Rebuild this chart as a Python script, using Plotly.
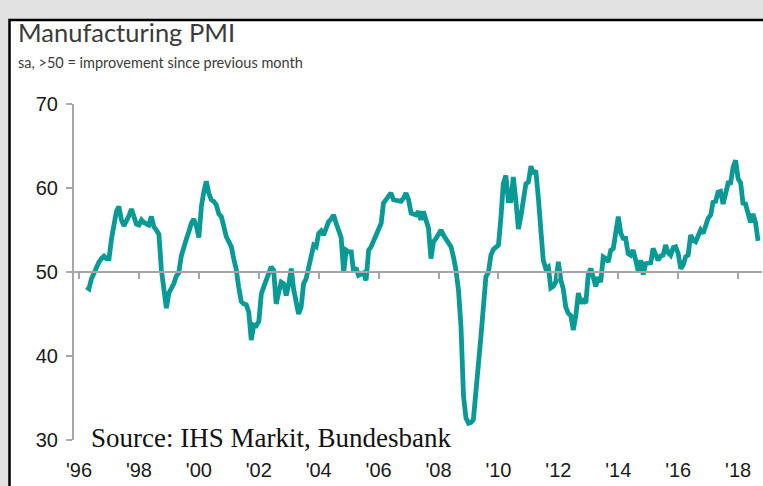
import pandas as pd
import plotly.graph_objects as go

# ---- data (German manufacturing PMI, monthly, Apr 1996 - Sep 2018) ----
start_month = "1996-04-01"
pmi_1996 = [48.2, 48.0, 49.2, 49.9, 50.6, 51.2, 51.6, 51.9, 51.6]
pmi_1997 = [51.6, 54.0, 56.0, 57.2, 57.8, 56.2, 55.5, 56.0, 56.7, 57.5, 56.6, 55.7]
pmi_1998 = [55.6, 56.2, 55.9, 55.7, 55.6, 56.6, 55.4, 55.0, 54.5, 50.3, 47.5, 45.7]
pmi_1999 = [47.5, 48.0, 48.6, 49.5, 49.9, 51.9, 53.2, 53.9, 54.8, 55.8, 56.3, 55.5]
pmi_2000 = [54.1, 57.8, 59.5, 60.8, 59.4, 58.6, 58.4, 58.0, 56.9, 56.6, 55.4, 54.2]
pmi_2001 = [53.6, 53.0, 51.6, 50.3, 48.2, 46.5, 46.2, 46.1, 45.2, 41.9, 43.7, 43.6]
pmi_2002 = [44.1, 47.4, 48.2, 49.0, 50.0, 50.6, 50.2, 46.2, 47.6, 48.8, 48.6, 47.2]
pmi_2003 = [48.5, 50.4, 48.0, 46.5, 45.0, 45.8, 48.6, 49.2, 50.4, 51.6, 53.2, 53.0]
pmi_2004 = [54.6, 54.9, 54.4, 55.2, 56.0, 56.3, 56.8, 55.8, 54.9, 54.1, 49.9, 52.6]
pmi_2005 = [52.4, 52.4, 50.1, 50.5, 49.6, 49.8, 49.9, 49.0, 52.6, 53.0, 53.8, 54.4]
pmi_2006 = [55.2, 55.8, 58.2, 58.6, 59.0, 59.4, 58.6, 58.5, 58.4, 58.4, 58.8, 59.4]
pmi_2007 = [58.6, 57.0, 56.9, 56.8, 57.2, 56.2, 57.2, 56.2, 55.2, 51.6, 53.6, 54.0]
pmi_2008 = [54.4, 55.0, 54.4, 54.0, 53.6, 53.0, 51.8, 50.2, 47.8, 43.5, 35.2, 32.6]
pmi_2009 = [32.0, 32.1, 32.4, 35.4, 39.6, 42.3, 45.8, 49.4, 50.0, 52.0, 52.7, 53.0]
pmi_2010 = [53.2, 56.6, 60.5, 61.5, 58.5, 58.5, 61.3, 58.5, 55.1, 56.6, 58.5, 60.5]
pmi_2011 = [60.7, 62.6, 61.7, 62.1, 59.0, 54.2, 51.4, 50.4, 50.6, 48.1, 48.3, 48.8]
pmi_2012 = [51.2, 49.0, 48.0, 45.8, 45.1, 44.8, 43.1, 44.8, 47.5, 46.3, 46.6, 46.3]
pmi_2013 = [49.8, 50.4, 49.2, 48.3, 49.4, 48.8, 51.8, 51.6, 51.2, 52.6, 52.8, 54.3]
pmi_2014 = [56.6, 54.6, 54.0, 54.0, 52.2, 52.0, 52.6, 51.4, 50.1, 51.4, 49.7, 51.0]
pmi_2015 = [51.0, 51.1, 52.8, 52.0, 51.4, 51.9, 52.0, 53.2, 52.3, 52.0, 52.9, 53.0]
pmi_2016 = [52.2, 50.4, 50.8, 51.8, 52.0, 54.4, 53.8, 53.6, 54.3, 55.0, 54.6, 55.6]
pmi_2017 = [56.4, 56.8, 58.3, 58.4, 59.5, 59.6, 58.1, 59.3, 60.6, 60.6, 62.5, 63.3]
pmi_2018 = [61.1, 60.6, 58.2, 58.1, 56.9, 55.9, 56.9, 55.9, 53.7]

tick_dates = ["1996-01-01", "1998-01-01", "2000-01-01", "2002-01-01", "2004-01-01",
              "2006-01-01", "2008-01-01", "2010-01-01", "2012-01-01", "2014-01-01",
              "2016-01-01", "2018-01-01"]
tick_labels = ["'96", "'98", "'00", "'02", "'04", "'06", "'08", "'10", "'12", "'14", "'16", "'18"]
y_ticks = [30, 40, 50, 60, 70]

title_text = "Manufacturing PMI"
subtitle_text = "sa, >50 = improvement since previous month"
source_text = "Source: IHS Markit, Bundesbank"

pmi = (pmi_1996 + pmi_1997 + pmi_1998 + pmi_1999 + pmi_2000 + pmi_2001 + pmi_2002
       + pmi_2003 + pmi_2004 + pmi_2005 + pmi_2006 + pmi_2007 + pmi_2008 + pmi_2009
       + pmi_2010 + pmi_2011 + pmi_2012 + pmi_2013 + pmi_2014 + pmi_2015 + pmi_2016
       + pmi_2017 + pmi_2018)
months = pd.date_range(start_month, periods=len(pmi), freq="MS")

# ---- layout geometry (pixels) ----
W, H = 763, 486
L, R, T, B = 74, 1, 104, 46
pw, ph = W - L - R, H - T - B


def px_x(x):
    return (x - L) / pw


def px_y(y):
    return (H - B - y) / ph


teal = "#0a9a96"
axis_gray = "#a6a6a6"
narrow = "Liberation Sans Narrow, Arial Narrow, Liberation Sans, Arial, sans-serif"

fig = go.Figure()
fig.add_trace(go.Scatter(x=months, y=pmi, mode="lines",
                         line=dict(color=teal, width=4.8),
                         hoverinfo="x+y", showlegend=False))
# invisible trace to activate overlay axis drawn at y=50
fig.add_trace(go.Scatter(x=[months[0]], y=[50], xaxis="x2", mode="lines",
                         line=dict(width=0), showlegend=False, hoverinfo="skip"))

x_range = ["1995-11-01", "2018-10-19"]

fig.update_layout(
    width=W, height=H,
    margin=dict(l=L, r=R, t=T, b=B, pad=0),
    paper_bgcolor="#e2e2e2",
    plot_bgcolor="rgba(0,0,0,0)",
    xaxis=dict(range=x_range, type="date", tickvals=tick_dates, ticktext=tick_labels,
               showgrid=False, zeroline=False, showline=False, ticks="",
               ticklabelstandoff=16,
               tickfont=dict(family=narrow, size=20, color="#1a1a1a")),
    xaxis2=dict(range=x_range, type="date", overlaying="x", anchor="free", position=0.5,
                side="bottom", tickvals=tick_dates, showticklabels=False,
                showgrid=False, zeroline=False, showline=True, linecolor=axis_gray,
                linewidth=2, ticks="outside", ticklen=6, tickwidth=2, tickcolor=axis_gray),
    yaxis=dict(range=[30, 70], tickvals=y_ticks, showgrid=False, zeroline=False,
               showline=True, linecolor=axis_gray, linewidth=2,
               ticks="outside", ticklen=6, tickwidth=1.5, tickcolor=axis_gray,
               ticklabelstandoff=4,
               tickfont=dict(family=narrow, size=20, color="#1a1a1a")),
    shapes=[dict(type="rect", xref="paper", yref="paper", layer="below",
                 x0=px_x(9.5), x1=px_x(900), y0=px_y(20), y1=px_y(700),
                 fillcolor="white", line=dict(color="black", width=2.5))],
    annotations=[
        dict(text=title_text, xref="paper", yref="paper", x=px_x(16), y=px_y(32),
             xanchor="left", yanchor="middle", showarrow=False,
             font=dict(family="Lato, Open Sans, sans-serif", size=25.5, color="#3b3b3b")),
        dict(text=subtitle_text, xref="paper", yref="paper", x=px_x(16), y=px_y(62),
             xanchor="left", yanchor="middle", showarrow=False,
             font=dict(family="Lato, Open Sans, sans-serif", size=14.5, color="#3b3b3b")),
        dict(text=source_text, xref="paper", yref="paper", x=px_x(89), y=px_y(438),
             xanchor="left", yanchor="middle", showarrow=False,
             font=dict(family="Liberation Serif, Times New Roman, serif", size=27,
                       color="#111111")),
    ],
)

fig.write_html("out.html", config={"displayModeBar": False},
               post_script="document.body.style.margin='0';"
                           "document.body.style.overflow='hidden';")
